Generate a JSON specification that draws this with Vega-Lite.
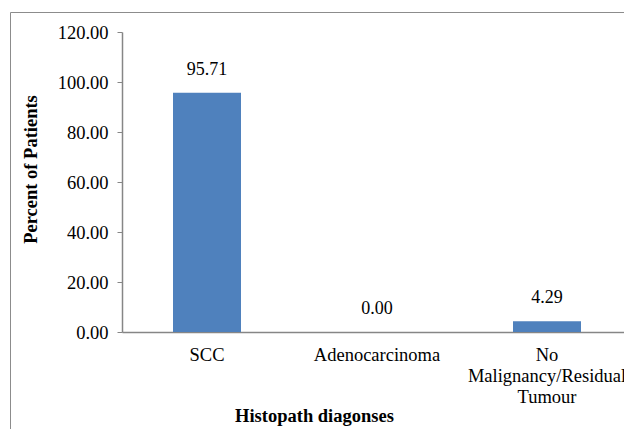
{
  "$schema": "https://vega.github.io/schema/vega-lite/v6.json",
  "autosize": "none",
  "padding": {"left": 10, "top": 12, "right": 0, "bottom": 0},
  "width": 700,
  "height": 500,
  "background": "white",
  "config": {
    "view": {"stroke": "#8c8c8c", "strokeWidth": 1},
    "font": "Liberation Serif"
  },
  "data": {
    "values": [
      {"diagnosis": "SCC", "percent": 95.71},
      {"diagnosis": "Adenocarcinoma", "percent": 0.0},
      {"diagnosis": "No Malignancy/Residual Tumour", "percent": 4.29}
    ]
  },
  "encoding": {
    "x": {
      "field": "diagnosis",
      "type": "nominal",
      "sort": null,
      "scale": {"range": [112, 622], "paddingInner": 0.6, "paddingOuter": 0.3},
      "axis": {
        "title": "Histopath diagonses",
        "offset": -180,
        "labelAngle": 0,
        "labelFont": "Liberation Serif",
        "labelFontSize": 18.5,
        "labelColor": "black",
        "labelPadding": 13,
        "labelLineHeight": 21,
        "labelExpr": "split(datum.label, ' ')",
        "labelOverlap": false,
        "ticks": false,
        "domainColor": "#868686",
        "domainWidth": 1.5,
        "titleFont": "Liberation Serif",
        "titleFontSize": 18.5,
        "titleFontWeight": "bold",
        "titleColor": "black",
        "titleX": 304,
        "titleY": 83,
        "titleBaseline": "middle",
        "titleAlign": "center",
        "titleAnchor": null
      }
    },
    "y": {
      "field": "percent",
      "type": "quantitative",
      "scale": {"domain": [0, 120], "range": [320, 20], "nice": false},
      "axis": {
        "title": "Percent of Patients",
        "offset": -112,
        "values": [0, 20, 40, 60, 80, 100, 120],
        "format": ".2f",
        "grid": false,
        "labelFont": "Liberation Serif",
        "labelFontSize": 18.5,
        "labelColor": "black",
        "labelPadding": 9,
        "tickSize": 5,
        "tickColor": "#868686",
        "domainColor": "#868686",
        "domainWidth": 1.5,
        "titleFont": "Liberation Serif",
        "titleFontSize": 18.5,
        "titleFontWeight": "bold",
        "titleColor": "black",
        "titleX": -92,
        "titleY": 157,
        "titleBaseline": "middle",
        "titleAlign": "center",
        "titleAnchor": null
      }
    }
  },
  "layer": [
    {"mark": {"type": "bar", "color": "#4F81BD"}},
    {
      "mark": {"type": "text", "font": "Liberation Serif", "fontSize": 18, "color": "black", "baseline": "alphabetic", "dy": -18},
      "encoding": {"text": {"field": "percent", "type": "quantitative", "format": ".2f"}}
    }
  ]
}
